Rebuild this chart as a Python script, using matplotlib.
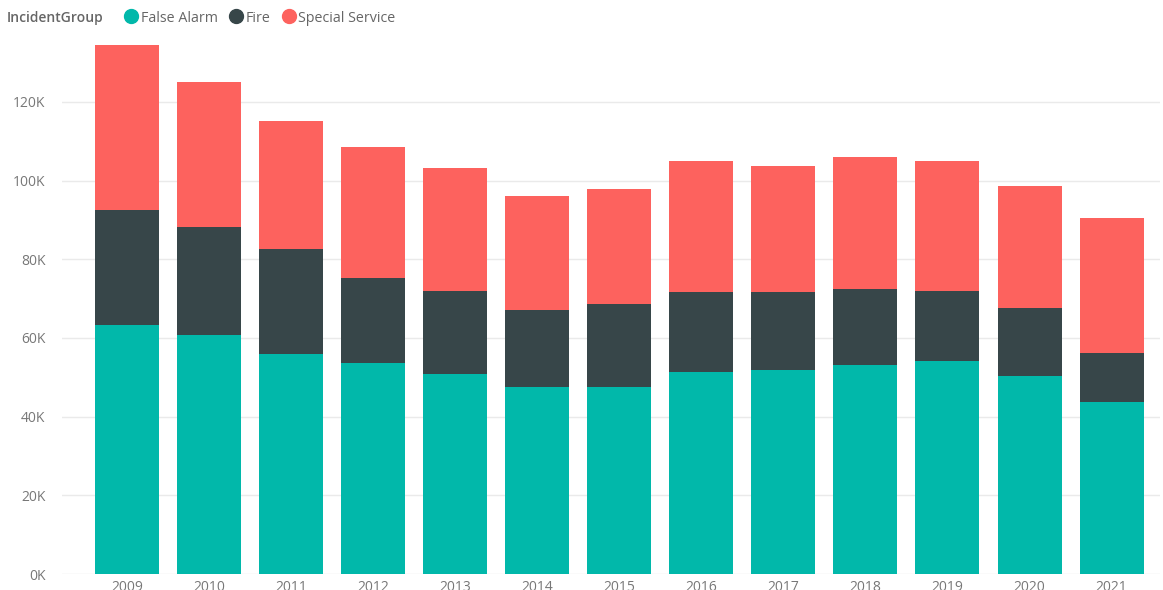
import matplotlib
matplotlib.use("Agg")
from matplotlib import pyplot as plt
from matplotlib.lines import Line2D
from matplotlib.ticker import FuncFormatter

years = ["2009", "2010", "2011", "2012", "2013", "2014", "2015",
         "2016", "2017", "2018", "2019", "2020", "2021"]
# 件数 (千件)
false_alarm = [63.3, 60.8, 55.9, 53.6, 50.9, 47.5, 47.5, 51.4, 51.9, 53.1, 54.2, 50.3, 43.7]
fire = [29.2, 27.4, 26.7, 21.7, 21.1, 19.6, 21.1, 20.3, 19.8, 19.4, 17.8, 17.3, 12.5]
special_service = [42.0, 36.9, 32.6, 33.3, 31.2, 29.0, 29.3, 33.3, 32.0, 33.5, 33.0, 31.1, 34.3]

colors = {"False Alarm": "#01B8AA", "Fire": "#374649", "Special Service": "#FD625E"}
font = ["Open Sans", "DejaVu Sans"]
plt.rcParams["font.family"] = font

fig = plt.figure(figsize=(11.63, 5.90), dpi=100)
ax = fig.add_axes([62 / 1163, 16 / 590, (1160 - 62) / 1163, (574 - 39) / 590])

x = list(range(len(years)))
vals = [v * 1000 for v in false_alarm]
fire_v = [v * 1000 for v in fire]
ss_v = [v * 1000 for v in special_service]
bottom2 = [a + b for a, b in zip(vals, fire_v)]

w = 0.78
ax.bar(x, vals, width=w, color=colors["False Alarm"], zorder=2)
ax.bar(x, fire_v, width=w, bottom=vals, color=colors["Fire"], zorder=2)
ax.bar(x, ss_v, width=w, bottom=bottom2, color=colors["Special Service"], zorder=2)

ax.set_xlim(-0.79, 12.59)
ax.set_ylim(0, 136000)
ax.set_yticks(range(0, 140000, 20000))
ax.yaxis.set_major_formatter(FuncFormatter(lambda v, p: f"{int(v / 1000)}K"))
ax.set_xticks(x)
ax.set_xticklabels(years)
ax.grid(axis="y", color="#EAEAEA", linewidth=1, zorder=0)
for s in ax.spines.values():
    s.set_visible(False)
ax.tick_params(axis="both", length=0, labelsize=10, labelcolor="#777777")
ax.tick_params(axis="y", pad=12)
ax.tick_params(axis="x", pad=4)

# 凡例
fig.text(7 / 1163, 1 - 18 / 590, "IncidentGroup", fontsize=10, fontweight="semibold",
         color="#666666", va="center", ha="left")
handles = [Line2D([0], [0], marker="o", linestyle="", markersize=10,
                  markerfacecolor=c, markeredgecolor=c) for c in colors.values()]
fig.legend(handles, list(colors.keys()), loc="center left",
           bbox_to_anchor=(110 / 1163, 1 - 18 / 590), ncol=3, frameon=False,
           handletextpad=0.05, columnspacing=0.7, handlelength=1.2,
           prop={"size": 10.3, "family": font}, labelcolor="#666666")

fig.savefig("out.png", dpi=100)
